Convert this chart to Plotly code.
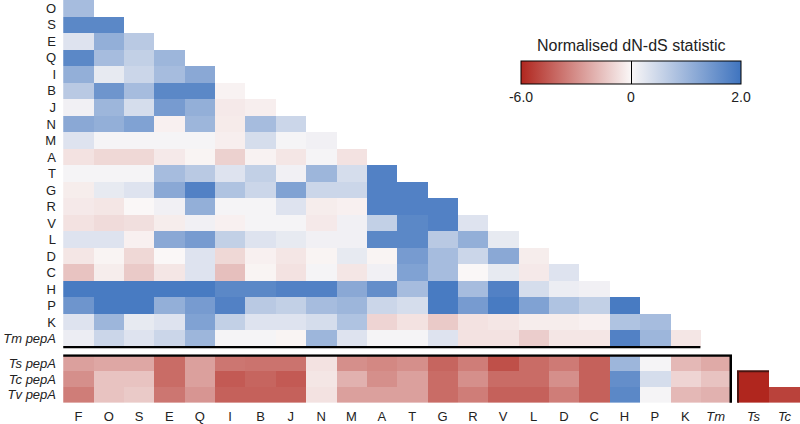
import plotly.graph_objects as go

cols = ["F", "O", "S", "E", "Q", "I", "B", "J", "N", "M", "A", "T", "G", "R", "V", "L", "D", "C", "H", "P", "K", "Tm"]
col_labels = cols[:-1] + ["<i>Tm</i>"]
rows_top = ["O", "S", "E", "Q", "I", "B", "J", "N", "M", "A", "T", "G", "R", "V", "L", "D", "C", "H", "P", "K", "Tm pepA"]
row_top_labels = rows_top[:-1] + ["<i>Tm pepA</i>"]
rows_bot = ["Ts pepA", "Tc pepA", "Tv pepA"]
row_bot_labels = ["<i>Ts pepA</i>", "<i>Tc pepA</i>", "<i>Tv pepA</i>"]
cols_side = ["Ts", "Tc"]
col_side_labels = ["<i>Ts</i>", "<i>Tc</i>"]

# normalised dN-dS values (lower triangle, row by row)
tri_O = [0.9]
tri_S = [1.7, 1.7]
tri_E = [0.3, 1.1, 0.7]
tri_Q = [1.7, 0.9, 0.6, 1.0]
tri_I = [1.1, 0.2, 0.5, 0.9, 1.2]
tri_B = [0.7, 1.5, 0.9, 1.7, 1.7, -0.15]
tri_J = [0.1, 1.0, 0.4, 1.4, 1.1, -0.4, -0.25]
tri_N = [1.2, 1.1, 1.3, -0.2, 1.0, -0.35, 0.9, 0.5]
tri_M = [0.3, 0.05, 0.05, 0.05, 0.05, -0.25, 0.4, 0.05, 0.1]
tri_A = [-0.6, -0.9, -0.9, -0.4, -0.1, -1.1, -0.15, -0.5, 0.05, -0.6]
tri_T = [0.05, 0.05, 0.05, 0.9, 0.7, 0.3, 0.6, 0.1, 1.0, 0.4, 1.8]
tri_G = [-0.3, 0.2, 0.3, 1.2, 1.8, 0.8, 0.5, 1.3, 0.5, 0.5, 1.8, 1.8]
tri_R = [-0.4, -0.5, 0.0, 0.1, 1.1, 0.05, 0.05, 0.3, -0.3, -0.2, 1.8, 1.8, 1.8]
tri_V = [-0.6, -0.8, -0.7, -0.3, 0.1, -0.2, 0.05, 0.05, -0.4, 0.1, 0.6, 1.7, 1.8, 0.3]
tri_L = [0.3, 0.3, -0.2, 1.2, 1.4, 0.6, 0.3, 0.2, 0.1, 0.1, 1.7, 1.7, 0.7, 1.1, 0.2]
tri_D = [-0.5, -0.1, -0.9, 0.0, 0.3, -0.9, -0.2, -0.5, -0.1, 0.2, -0.1, 1.4, 0.9, 0.5, 1.2, -0.3]
tri_C = [-1.5, -0.3, -1.3, -0.5, 0.3, -1.6, -0.1, -0.6, 0.05, -0.5, 0.1, 1.3, 0.9, 0.0, 0.2, -0.4, 0.3]
tri_H = [1.9, 1.9, 1.9, 1.9, 1.9, 1.7, 1.7, 1.8, 1.8, 1.2, 1.6, 0.9, 1.9, 0.9, 1.8, 0.4, 0.15, 0.1]
tri_P = [1.5, 1.9, 1.9, 1.1, 1.4, 1.8, 0.7, 0.6, 0.9, 1.0, 0.5, 0.4, 1.9, 1.4, 1.9, 1.3, 0.8, 0.6, 1.9]
tri_K = [0.3, 1.0, 0.2, 0.3, 1.3, 0.6, 0.3, 0.3, 0.4, 0.8, -1.0, -0.6, -1.3, -0.6, -0.5, -0.3, -0.3, -0.2, 0.8, 0.9]
tri_Tm = [0.15, 0.5, 0.3, 0.5, 1.0, 0.05, 0.05, -0.1, 1.0, 0.3, 0.05, 0.05, 0.3, -0.6, -0.6, -1.2, -0.5, -0.5, 1.8, 1.0, -0.5]

ts_pepA = [-2.5, -2.3, -2.3, -4.0, -2.5, -3.7, -3.8, -3.8, -0.6, -3.0, -3.2, -3.0, -4.2, -3.5, -4.8, -4.0, -3.6, -4.3, 1.0, 0.05, -1.8, -2.2]
tc_pepA = [-3.0, -1.5, -1.5, -4.0, -2.5, -4.5, -4.2, -4.5, -0.5, -2.0, -3.0, -2.5, -4.0, -3.0, -4.0, -4.0, -3.0, -4.3, 1.6, 0.4, -1.0, -1.5]
tv_pepA = [-3.5, -1.5, -1.3, -3.7, -2.8, -4.3, -4.3, -4.3, -0.6, -2.5, -2.5, -2.5, -4.0, -3.5, -4.3, -4.3, -3.5, -4.3, 1.7, 0.05, -1.8, -2.0]

side_Ts = [None, -6.0, -6.0]
side_Tc = [None, None, -5.2]

tri_rows = [tri_O, tri_S, tri_E, tri_Q, tri_I, tri_B, tri_J, tri_N, tri_M, tri_A, tri_T,
            tri_G, tri_R, tri_V, tri_L, tri_D, tri_C, tri_H, tri_P, tri_K, tri_Tm]

VMIN, VMAX = -6.0, 2.0


def norm(v):
    if v is None:
        return None
    return v / -VMIN if v < 0 else v / VMAX


z_top = [[norm(v) for v in r] + [None] * (len(cols) - len(r)) for r in tri_rows]
z_bot = [[norm(v) for v in r] for r in (ts_pepA, tc_pepA, tv_pepA)]
z_side = [[norm(a), norm(b)] for a, b in zip(side_Ts, side_Tc)]

cscale = [[0.0, "#b0261e"], [0.5, "#faf7f7"], [1.0, "#3f74bf"]]
FONT = "Liberation Sans, Arial, sans-serif"
TXT = "#222222"

# pixel layout helpers
W, H = 800, 424
ML, MR, MT, MB = 62, 0, 0, 17
PW, PH = W - ML - MR, H - MT - MB


def px_x(p):
    return (p - ML) / PW


def px_y(p):
    return (H - MB - p) / PH


fig = go.Figure()
fig.add_trace(go.Heatmap(
    z=z_top, x=cols, y=rows_top, xaxis="x", yaxis="y",
    colorscale=cscale, zmin=-1, zmax=1, hoverongaps=False,
    colorbar=dict(
        orientation="h", x=px_x(631), xanchor="center", len=220 / PW, lenmode="fraction",
        thickness=23, y=px_y(61), yanchor="top", ypad=0, xpad=0,
        outlinewidth=1, outlinecolor="black",
        tickvals=[-1, 0, 1], ticktext=["-6.0", "0", "2.0"],
        ticks="inside", ticklen=23, tickcolor="black", tickwidth=1,
        tickfont=dict(family=FONT, size=14, color=TXT),
    ),
))
fig.add_trace(go.Heatmap(
    z=z_bot, x=cols, y=rows_bot, xaxis="x", yaxis="y2",
    colorscale=cscale, zmin=-1, zmax=1, showscale=False,
))
fig.add_trace(go.Heatmap(
    z=z_side, x=cols_side, y=rows_bot, xaxis="x2", yaxis="y2",
    colorscale=cscale, zmin=-1, zmax=1, showscale=False, hoverongaps=False,
))

axis_common = dict(showgrid=False, zeroline=False, showline=False, ticks="",
                   tickfont=dict(family=FONT, size=13, color=TXT))

fig.update_layout(
    width=W, height=H, margin=dict(l=ML, r=MR, t=MT, b=MB),
    paper_bgcolor="white", plot_bgcolor="white",
    font=dict(family=FONT, size=13, color=TXT),
    xaxis=dict(domain=[0, px_x(732)], anchor="y2", type="category",
               categoryarray=cols, tickvals=cols, ticktext=col_labels,
               ticklabelstandoff=3, **axis_common),
    xaxis2=dict(domain=[px_x(737), 1], anchor="y2", type="category",
                categoryarray=cols_side, tickvals=cols_side, ticktext=col_side_labels,
                ticklabelstandoff=3, **axis_common),
    yaxis=dict(domain=[px_y(351), 1], anchor="x", type="category", autorange="reversed",
               tickvals=rows_top, ticktext=row_top_labels, ticklabelstandoff=5, **axis_common),
    yaxis2=dict(domain=[0, px_y(357)], anchor="x", type="category", autorange="reversed",
                tickvals=rows_bot, ticktext=row_bot_labels, ticklabelstandoff=5, **axis_common),
    annotations=[dict(text="Normalised dN-dS statistic", x=px_x(631), y=px_y(46),
                      xref="paper", yref="paper", xanchor="center", yanchor="middle",
                      showarrow=False, font=dict(family=FONT, size=16, color=TXT))],
)

n_top = len(rows_top)
k_idx = cols.index("K")
last_idx = len(cols) - 1
shapes = [
    # separator under Tm pepA row
    dict(type="line", xref="x", yref="y", x0=-0.5, x1=k_idx + 0.5,
         y0=n_top - 0.5, y1=n_top - 0.5, line=dict(color="black", width=2.5)),
    # box around pepA rows (top + right)
    dict(type="path", xref="x", yref="y2",
         path=f"M -0.5,-0.5 L {last_idx + 0.5},-0.5 L {last_idx + 0.5},{len(rows_bot) - 0.5}",
         line=dict(color="black", width=2.5)),
    # frame of Ts cell
    dict(type="path", xref="x2", yref="y2",
         path=f"M -0.5,{len(rows_bot) - 0.5} L -0.5,0.5 L 0.5,0.5",
         line=dict(color="#4a1410", width=2)),
]
fig.update_layout(shapes=shapes)

fig.write_html("out.html", config={"displayModeBar": False},
               post_script="document.body.style.margin='0';document.body.style.overflow='hidden';")
